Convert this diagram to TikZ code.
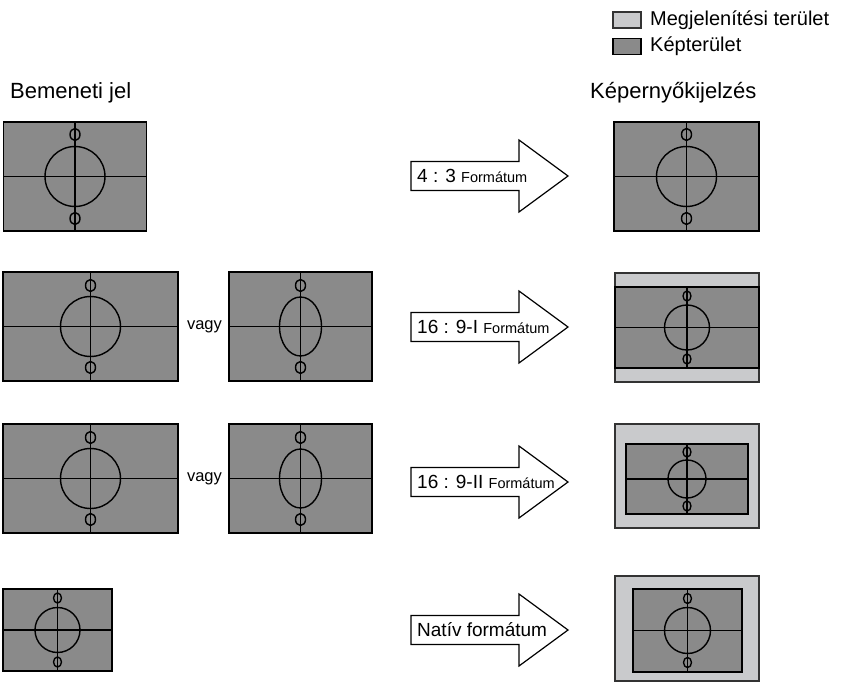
\documentclass[tikz,border=0pt]{standalone}
\usepackage{fontspec}
\setmainfont{Liberation Sans}
\definecolor{pic}{HTML}{8A8A8A}
\definecolor{disp}{HTML}{C9CACC}
\newcommand\smf{\fontsize{14.5}{16}\selectfont}
\newcommand\tpat[6]{%
  \draw[ln] (#1.north) -- (#1.south);
  \draw[ln] (#1.west) -- (#1.east);
  \draw[ln] (#1.center) ellipse [x radius=#2, y radius=#3];
  \draw[ln] ([yshift=#4pt]#1.center) ellipse [x radius=#5, y radius=#6];
  \draw[ln] ([yshift=-#4pt]#1.center) ellipse [x radius=#5, y radius=#6];
}
\newcommand\farrow[2]{%
  \coordinate (#1) at (411,#2);
  \draw[arrbox] (#1) ++(0,-14.5) -- ++(108,0) -- ++(0,-21.5) -- ++(49,36) -- ++(-49,36) -- ++(0,-21.5) -- ++(-108,0) -- cycle;
}
\begin{document}
\begin{tikzpicture}[x=1pt,y=-1pt,
  ln/.style={line width=1.4pt, black},
  picbox/.style={draw=black, line width=1.5pt, fill=pic, inner sep=0pt, outer sep=0pt},
  dispbox/.style={draw=black!80, line width=1.5pt, fill=disp, inner sep=0pt, outer sep=0pt},
  arrbox/.style={draw=black, line width=1.2pt, fill=white},
  head/.style={font=\fontsize{22}{24}\selectfont, anchor=west, inner sep=0pt},
  leg/.style={font=\fontsize{20}{22}\selectfont, anchor=west, inner sep=0pt},
  big/.style={font=\fontsize{19}{21}\selectfont, anchor=west, inner sep=0pt},
  vg/.style={font=\fontsize{16.5}{18}\selectfont, inner sep=0pt}
]
\useasboundingbox (0,0) rectangle (844,682);

% legend
\node[dispbox, minimum width=28, minimum height=16, anchor=north west] (lg1) at (613,12) {};
\node[picbox, minimum width=28, minimum height=16, anchor=north west] (lg2) at (613,38.5) {};
\node[leg] (lt1) at (650,20.5) {Megjelenítési terület};
\node[leg] (lt2) at (650,46.5) {Képterület};

% headings
\node[head] (h1) at (10,93) {Bemeneti jel};
\node[head] (h2) at (590,93) {Képernyőkijelzés};

% row 1
\node[picbox, minimum width=143, minimum height=109] (i1) at (75,176.5) {};
\tpat{i1}{30}{30}{42}{5}{6}
\node[picbox, minimum width=145, minimum height=109] (o1) at (686.5,176.5) {};
\tpat{o1}{30}{30}{42}{5}{6}
\farrow{a1}{176}
\node[big] (t1) at (417,176) {4 : 3 {\smf Formátum}};

% row 2
\node[picbox, minimum width=175, minimum height=109] (i2a) at (90.5,326.5) {};
\tpat{i2a}{30}{30}{41}{5}{6}
\node[vg] (v2) at (204.5,327) {vagy};
\node[picbox, minimum width=143, minimum height=109] (i2b) at (300.5,326.5) {};
\tpat{i2b}{21}{29.5}{41}{5}{6}
\node[dispbox, minimum width=144, minimum height=109] (o2) at (687,327.5) {};
\node[picbox, minimum width=144, minimum height=81] (o2p) at (687,327.5) {};
\tpat{o2p}{22.5}{22.5}{31.5}{4}{5}
\farrow{a2}{327}
\node[big] (t2) at (417,327) {16 : 9-I {\smf Formátum}};

% row 3
\node[picbox, minimum width=175, minimum height=109] (i3a) at (90.5,478.5) {};
\tpat{i3a}{30}{30}{41}{5}{6}
\node[vg] (v3) at (204.5,479) {vagy};
\node[picbox, minimum width=143, minimum height=109] (i3b) at (300.5,478.5) {};
\tpat{i3b}{21}{29.5}{41}{5}{6}
\node[dispbox, minimum width=144, minimum height=104] (o3) at (687,476) {};
\node[picbox, minimum width=122, minimum height=70] (o3p) at (687,479) {};
\tpat{o3p}{19}{19}{27}{4}{5}
\farrow{a3}{482}
\node[big] (t3) at (417,482) {16 : 9-II {\smf Formátum}};

% row 4
\node[picbox, minimum width=109, minimum height=82] (i4) at (57.5,630) {};
\tpat{i4}{22.5}{22.5}{32}{4}{5}
\node[dispbox, minimum width=144, minimum height=105] (o4) at (687,628.5) {};
\node[picbox, minimum width=109, minimum height=83] (o4p) at (687.5,630.5) {};
\tpat{o4p}{23}{23}{32}{4}{5}
\farrow{a4}{630}
\node[big] (t4) at (417,630) {Natív formátum};
\end{tikzpicture}
\end{document}
